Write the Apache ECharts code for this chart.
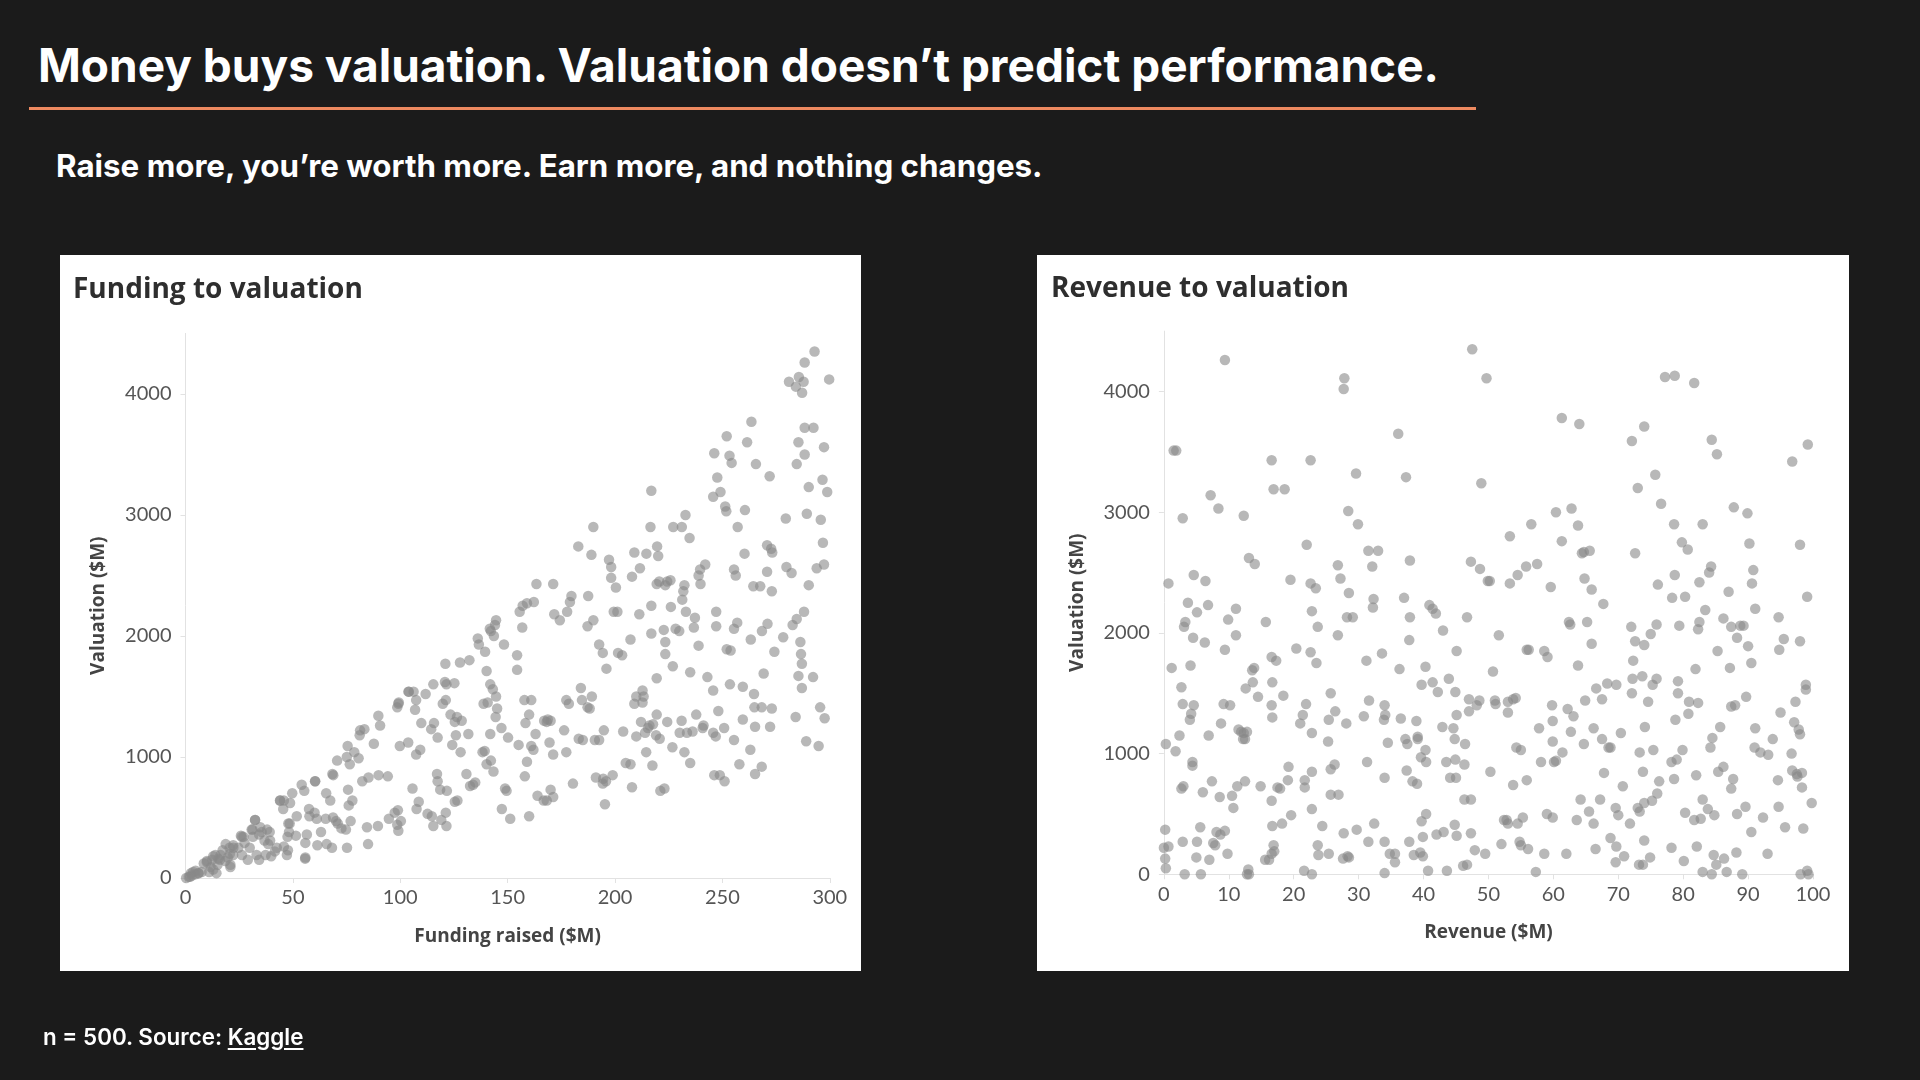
<!DOCTYPE html>
<html>
<head>
<meta charset="utf-8">
<title>Money buys valuation</title>
<script src="https://cdn.jsdelivr.net/npm/echarts@6/dist/echarts.min.js"></script>
<style>
  html, body { margin: 0; padding: 0; width: 1920px; height: 1080px; background: #1b1b1b; overflow: hidden; font-family: Inter, 'Noto Sans', sans-serif; }
  .title { position: absolute; left: 38px; top: 42px; font-size: 46px; line-height: 46px; font-weight: 700; color: #fff; white-space: nowrap; }
  .rule { position: absolute; left: 29px; top: 107px; width: 1447px; height: 3px; background: #ee8a60; }
  .subtitle { position: absolute; left: 56px; top: 151px; font-size: 31.3px; line-height: 31px; font-weight: 700; color: #fff; white-space: nowrap; }
  .panel { position: absolute; top: 255px; height: 716px; background: #fff; }
  .footer { position: absolute; left: 43px; top: 1026px; font-size: 22.4px; line-height: 22px; font-weight: 600; color: #fff; white-space: nowrap; }
  .footer u { text-underline-offset: 3px; }
  #chart { position: absolute; left: 0; top: 0; width: 1920px; height: 1080px; }
</style>
</head>
<body>
<div class="title">Money buys valuation. Valuation doesn’t predict performance.</div>
<div class="rule"></div>
<div class="subtitle">Raise more, you’re worth more. Earn more, and nothing changes.</div>
<div class="panel" style="left:60px;width:801px;"></div>
<div class="panel" style="left:1037px;width:812px;"></div>
<div id="chart"></div>
<div class="footer">n = 500. Source: <u>Kaggle</u></div>
<script>
// 面板标题和坐标轴名称
const panelTitles = ['Funding to valuation', 'Revenue to valuation'];
const xNames = ['Funding raised ($M)', 'Revenue ($M)'];
const yName = 'Valuation ($M)';
const valuationTicks = [0, 1000, 2000, 3000, 4000];

// 融资额 → 估值
const fundingPoints = [
  [292.9,4350],[288.3,4260],[281.0,4100],[285.6,4140],[287.8,4100],[284.2,4060],[287.1,4010],[299.7,4120],
  [263.5,3770],[246.2,3510],[252.0,3650],[253.3,3490],[254.3,3430],[261.5,3600],[265.6,3420],[288.3,3720],
  [292.4,3720],[285.4,3600],[297.3,3560],[288.3,3500],[284.6,3420],[247.6,3310],[272.0,3320],[290.2,3230],
  [296.6,3290],[298.8,3190],[249.1,3190],[245.7,3150],[251.3,3070],[251.8,3030],[260.5,3040],[279.5,2970],
  [289.3,3010],[295.8,2960],[257.1,2900],[216.9,3200],[189.9,2900],[216.5,2900],[227.1,2900],[231.1,2900],
  [232.8,3000],[234.7,2810],[182.9,2740],[219.6,2740],[209.0,2690],[214.6,2680],[189.0,2670],[220.1,2660],
  [197.2,2630],[198.2,2570],[211.6,2560],[207.9,2490],[198.2,2480],[200.4,2400],[242.0,2590],[239.6,2550],
  [238.9,2500],[239.8,2430],[260.3,2680],[255.4,2550],[256.2,2500],[270.8,2750],[272.7,2720],[273.2,2690],
  [264.4,2410],[273.0,2370],[279.8,2570],[282.2,2520],[290.2,2420],[296.8,2770],[297.3,2590],[293.9,2560],
  [219.4,2430],[220.6,2450],[224.3,2450],[225.8,2460],[223.4,2420],[232.3,2420],[231.8,2370],[231.3,2300],
  [233.0,2200],[171.2,2430],[179.7,2330],[179.0,2280],[177.7,2200],[187.5,2330],[163.4,2430],[157.0,2250],
  [159.0,2270],[162.2,2280],[155.6,2200],[156.8,2070],[171.7,2180],[174.3,2130],[199.4,2200],[201.1,2200],
  [211.3,2180],[216.9,2250],[189.9,2130],[187.2,2080],[226.0,2240],[222.7,2050],[223.4,1950],[223.4,1850],
  [228.2,2060],[229.9,2040],[237.2,2150],[236.7,2070],[238.9,1920],[247.1,2080],[256.9,2110],[255.4,2060],
  [216.9,2020],[207.2,1970],[201.4,1860],[203.3,1840],[192.6,1930],[194.3,1860],[196.0,1730],[219.4,1650],
  [226.9,1750],[235.0,1700],[252.0,1890],[247.1,2200],[263.2,1970],[267.6,2410],[270.8,2530],[274.2,1870],
  [268.4,2040],[271.0,2100],[282.7,2090],[284.6,2140],[278.3,1990],[286.3,1950],[286.6,1850],[287.0,1770],
  [288.0,2200],[253.8,1880],[269.2,1690],[285.4,1670],[287.0,1570],[292.2,1660],[243.0,1660],[253.5,1600],
  [259.5,1580],[264.7,1520],[245.7,1550],[212.8,1550],[213.3,1500],[209.9,1500],[212.8,1450],[209.0,1440],
  [219.4,1350],[216.0,1260],[217.7,1270],[224.3,1290],[214.5,1040],[217.4,930],[219.1,1180],[220.8,1150],
  [221.1,720],[209.9,1170],[205.0,950],[207.2,940],[207.9,750],[203.8,1210],[194.8,1220],[192.6,1140],
  [191.1,830],[194.5,820],[195.8,800],[198.9,850],[194.3,780],[195.3,610],[180.4,780],[190.6,1140],
  [185.0,1140],[188.2,1400],[189.2,1500],[184.6,1470],[187.2,1410],[177.3,1470],[178.5,1440],[184.1,1570],
  [176.3,1220],[183.1,1150],[170.0,1300],[171.2,1020],[177.3,1040],[168.2,1290],[214.0,1200],[230.1,1200],
  [231.0,1300],[236.1,1210],[237.8,1350],[241.2,1260],[240.8,1240],[245.7,1200],[246.9,1170],[248.1,1380],
  [250.8,1240],[255.4,1140],[259.5,1310],[264.9,1410],[268.3,1410],[273.0,1400],[265.2,1250],[272.2,1250],
  [284.1,1330],[295.5,1410],[297.6,1320],[289.0,1130],[294.8,1090],[263.0,1060],[257.9,940],[268.3,920],
  [265.2,860],[246.2,850],[248.8,850],[251.0,800],[233.5,1200],[226.7,1080],[232.3,1040],[235.0,950],
  [223.0,740],[212.1,1290],[215.3,1240],[144.6,2130],[144.1,2090],[143.6,2000],[141.7,2060],[142.2,2040],
  [136.1,1980],[136.6,1930],[139.5,1870],[148.3,1930],[132.2,1800],[140.2,1710],[154.4,1840],[154.4,1720],
  [161.0,1470],[157.8,1470],[160.0,1350],[158.3,1280],[163.0,1190],[159.0,960],[161.0,1090],[162.0,1060],
  [167.0,1300],[168.7,1310],[158.0,840],[163.9,680],[166.8,640],[168.2,640],[171.2,670],[170.0,730],
  [160.0,510],[169.5,1120],[148.8,740],[149.5,720],[147.3,570],[151.2,490],[155.1,1100],[150.2,1160],
  [147.1,1240],[144.4,1330],[145.1,1400],[144.6,1500],[141.9,1600],[143.1,1560],[140.7,1450],[138.8,1440],
  [141.9,1190],[142.2,970],[140.2,940],[139.3,1050],[138.3,1040],[143.4,880],[131.7,1190],[132.5,760],
  [130.8,860],[134.9,790],[133.9,770],[128.6,1300],[126.4,1330],[128.1,1040],[125.9,1180],[124.2,1100],
  [125.4,630],[126.6,640],[121.7,720],[118.6,730],[117.1,860],[117.4,800],[121.2,540],[114.7,510],
  [115.4,430],[112.7,530],[119.1,480],[121.5,430],[121.0,1770],[127.8,1780],[125.2,1610],[120.8,1620],
  [121.5,1600],[115.4,1600],[121.2,1470],[119.8,1440],[111.8,1520],[106.2,1540],[123.4,1350],[125.4,1290],
  [114.4,1230],[117.4,1160],[115.7,1280],[104.0,1540],[107.4,1470],[106.9,1390],[109.8,1280],[99.3,1450],
  [98.6,1410],[99.8,1090],[103.7,1120],[105.7,740],[109.3,1060],[107.4,1020],[108.6,630],[107.6,570],
  [98.9,560],[97.4,540],[94.7,490],[98.6,440],[99.1,390],[100.3,470],[94.2,840],[90.6,1260],
  [87.7,1110],[89.9,850],[89.6,430],[84.5,420],[85.0,280],[85.2,830],[83.3,1230],[81.1,1180],
  [80.6,990],[82.3,800],[78.6,1040],[76.5,940],[75.5,1090],[77.7,640],[76.9,470],[75.7,730],
  [76.0,600],[75.2,250],[70.6,970],[68.4,860],[68.7,500],[70.9,450],[72.6,410],[74.7,400],
  [70.1,470],[65.5,700],[67.4,640],[65.7,280],[68.2,250],[65.3,490],[63.1,380],[60.4,800],
  [55.8,170],[55.8,290],[56.5,360],[57.7,510],[57.5,570],[61.1,490],[60.1,540],[61.4,270],
  [54.1,770],[55.3,720],[51.4,350],[49.7,700],[45.8,640],[44.1,640],[45.5,570],[48.7,620],
  [48.5,450],[48.2,380],[47.5,340],[47.7,230],[47.2,190],[45.8,260],[41.6,220],[39.2,380],
  [38.0,400],[39.9,180],[34.3,360],[36.8,310],[38.5,280],[34.8,420],[32.4,480],[31.2,400],
  [31.4,340],[29.9,250],[33.1,190],[34.3,150],[37.3,190],[25.8,350],[27.0,340],[27.5,290],
  [26.3,190],[29.0,150],[24.6,250],[22.2,270],[20.5,250],[22.2,190],[20.9,110],[20.9,90],
  [18.7,280],[17.3,230],[16.3,190],[13.9,190],[15.3,160],[14.9,110],[12.4,150],[11.7,90],
  [10.0,140],[8.5,120],[12.9,70],[14.4,40],[11.0,50],[7.5,50],[6.1,40],[4.5,30],
  [3.0,20],[1.5,10],[2.5,40],[4.7,60],[3.5,50],[0.3,0],[19.7,170],[18.5,140],
  [2.1,10],[6.0,40],[9.9,130],[12.9,180],[16.0,150],[20.7,200],[22.3,250],[26.2,340],
  [30.8,400],[32.4,480],[35.5,380],[39.4,310],[42.5,250],[44.0,640],[47.9,450],[51.8,510],
  [55.7,160],[60.3,800],[68.8,850],[75.1,1000],[81.3,1220],[89.8,1340],[103.8,1540],[99.1,1440]
];

// 营收 → 估值
const revenuePoints = [
  [0.3,1080],[0.7,230],[0.2,370],[0.2,130],[0.3,50],[0.0,220],[0.7,2410],[1.2,1710],
  [1.5,3510],[1.9,3510],[1.8,1020],[2.4,1150],[2.7,1550],[3.0,730],[2.7,710],[2.9,270],
  [3.2,0],[2.9,2950],[3.1,2050],[3.3,2090],[3.7,2250],[2.9,1410],[4.1,1730],[4.0,1280],
  [4.2,1330],[4.6,1400],[4.4,930],[4.4,900],[4.6,2480],[5.1,2170],[4.5,1960],[5.1,270],
  [5.0,140],[5.7,0],[6.0,680],[5.6,390],[6.3,1920],[6.4,2430],[6.8,2230],[6.9,1150],
  [7.0,120],[7.2,3140],[7.4,770],[7.6,260],[7.9,240],[8.4,3030],[8.6,640],[8.1,350],
  [8.7,330],[8.8,1250],[9.4,360],[9.2,1410],[9.4,4260],[9.4,1860],[9.9,2110],[10.2,1400],
  [9.8,170],[10.5,650],[10.7,550],
  [11.1,1980],[11.1,2200],[11.3,730],[11.5,1200],[11.9,1180],[12.3,1170],[12.2,1120],[12.5,1120],
  [12.8,1180],[12.3,2970],[12.5,770],[12.6,1540],[13.0,40],[13.1,0],[12.8,0],[13.1,2620],
  [13.6,1690],[13.9,1710],[13.7,1590],[14.0,2570],[14.5,1470],[14.9,730],[15.6,120],[15.7,2090],
  [16.2,120],[16.6,610],[16.6,170],[16.9,240],[17.0,190],[16.7,400],[16.6,1400],[16.7,1300],
  [16.7,1590],[16.6,1800],[16.6,3430],[16.9,3190],[17.3,1770],[17.5,720],[17.9,710],[18.2,420],
  [18.4,1480],[18.6,3190],[19.2,890],[19.1,780],[19.5,2440],[19.6,490],[20.4,1870],
  [21.0,1250],[21.4,1320],[21.7,780],[21.7,720],[21.9,1410],[22.0,2730],[21.6,30],[22.6,3430],
  [22.6,2410],[22.8,1170],[22.8,2180],[22.6,1840],[22.8,850],[22.8,540],[22.8,0],[23.4,2370],
  [23.5,1750],[23.7,240],[23.8,160],[23.7,2050],[24.4,400],[25.4,170],[25.3,1100],[25.7,1500],
  [25.7,660],[25.4,1280],[25.7,870],[26.3,910],[26.4,1350],[26.8,1980],[26.8,2560],[27.2,2450],
  [26.9,660],[27.7,340],[27.6,130],[27.7,4020],[27.8,4110],[28.1,1250],[28.4,3010],[28.3,150],
  [28.5,140],[28.5,2330],[28.2,2130],[29.1,2130],[29.6,3320],[29.7,370],[29.9,2900],
  [30.8,1310],[31.3,930],[31.2,1770],[31.6,1440],[31.5,270],[31.5,2680],[32.1,2550],[32.2,2210],
  [32.3,2280],[32.4,420],[33.0,2680],[33.6,1830],[33.9,1280],[34.0,1400],[34.1,1320],[34.0,800],
  [34.0,270],[34.0,10],[34.5,1090],[34.8,170],[35.6,170],[35.6,100],[36.1,3650],[36.3,1700],
  [36.5,1290],[37.0,2290],[37.3,3290],[37.2,1120],[37.5,1080],[37.4,860],[37.8,270],[37.8,1940],
  [37.9,2600],[37.9,2130],[38.3,770],[38.5,160],[38.9,1270],[39.1,1120],[39.1,1140],[39.0,750],
  [39.5,180],[39.6,970],[39.7,1570],[39.9,310],[39.7,440],[39.9,150],
  [40.3,1030],[40.4,930],[40.4,500],[40.3,1720],[40.7,30],[40.9,2230],[41.4,2200],[41.4,1590],
  [41.9,2160],[42.2,1510],[42.0,330],[42.9,1220],[43.1,350],[43.0,2020],[43.6,30],[43.5,930],
  [43.9,1620],[44.1,800],[44.6,1210],[44.8,1120],[45.0,800],[44.9,950],[45.1,1320],[44.8,410],
  [45.1,320],[45.1,1850],[44.9,1510],[46.4,1080],[46.3,910],[46.3,620],[46.1,70],[46.7,80],
  [46.7,2130],[47.0,1350],[47.0,1450],[47.3,620],[47.3,340],[47.3,2590],[47.5,4350],[47.9,200],
  [48.2,1400],[48.6,1440],[48.7,2530],[48.9,3240],[49.5,170],[49.7,4110],[49.9,2430],[50.2,2430],
  [50.3,850],[50.7,1680],[51.0,1440],[51.1,1410],[51.6,1980],[52.0,250],[52.4,450],[52.8,450],
  [53.0,420],[53.0,1430],[53.0,1340],[53.3,2800],[53.3,2410],[53.8,1450],[54.2,1460],[53.8,740],
  [54.3,1050],[54.5,2480],[54.5,420],[54.8,270],[55.0,240],[55.0,1030],[55.3,470],[55.9,1860],
  [56.2,1860],[55.9,780],[56.1,210],[55.8,2550],[56.6,2900],[57.5,2570],[57.3,20],[57.8,1210],
  [58.1,930],[58.6,170],[58.6,1850],[59.1,1800],[59.0,500],[59.9,470],[59.6,2380],[59.9,1270],
  [59.9,1100],[59.8,1400],[60.1,930],[60.4,940],
  [60.4,3000],[61.3,3780],[61.3,2760],[61.4,1010],[62.0,170],[62.2,1370],[62.4,2090],[62.6,2070],
  [62.7,1180],[62.8,3030],[63.1,1310],[63.6,450],[63.8,2890],[63.8,1730],[64.0,3730],[64.2,620],
  [64.4,2660],[64.7,2670],[64.7,1080],[64.8,2450],[64.9,1440],[65.2,2090],[65.6,2680],[65.5,520],
  [65.9,1910],[65.9,2360],[66.2,1210],[66.2,420],[66.5,210],[66.6,1540],[67.2,620],[67.5,1450],
  [67.5,1120],[67.7,2240],[67.8,840],[68.3,1580],[68.5,1050],[68.8,1050],[68.8,300],[69.6,550],
  [69.7,230],[69.6,100],[69.7,1570],[70.0,490],
  [70.4,1170],[70.7,730],[70.9,150],[71.8,420],[72.0,2050],[72.1,1500],[72.1,3590],[72.2,1620],
  [72.3,1770],[72.6,1930],[72.6,2660],[73.0,3200],[73.0,550],[73.2,80],[73.3,520],[73.3,1010],
  [73.7,1640],[73.8,850],[74.0,280],[74.0,3710],[74.0,1900],[74.0,590],[74.1,1220],[73.8,80],
  [74.6,1430],[74.9,140],[75.0,1990],[75.2,610],[75.3,1570],[75.4,1030],[75.7,3310],[75.9,1620],
  [75.9,2070],[76.0,670],[76.1,2400],[76.3,770],[76.6,3070],[77.2,4120],[78.2,220],[78.3,2290],
  [78.6,790],[78.2,930],[78.6,2900],[78.7,2480],[78.7,4130],[78.8,1280],[79.0,950],[79.2,1500],
  [79.2,1600],[79.4,2060],[79.8,2750],[79.9,1030],[80.1,110],[80.3,2300],[80.3,510],
  [80.7,2690],[80.8,1330],[80.9,1430],[81.7,4070],[81.7,450],[81.9,1700],[82.0,820],[82.1,230],
  [82.3,2030],[82.5,2090],[82.3,1420],[82.5,2420],[82.7,460],[83.0,2900],[83.0,620],[83.0,20],
  [83.4,2190],[83.8,540],[84.0,2500],[84.2,1050],[84.3,2550],[84.4,3600],[84.4,0],[84.5,1130],
  [84.7,160],[84.8,490],[85.1,80],[85.2,3480],[85.3,1850],[85.4,850],[85.7,1220],[86.2,890],
  [86.2,2120],[86.3,130],[86.7,20],[87.0,2340],[87.2,1710],[87.4,1390],[87.4,2050],[87.4,710],
  [87.7,790],[87.8,3040],[88.0,1400],[88.2,180],[88.3,500],[88.3,1960],[88.8,2060],[89.3,2060],
  [89.1,0],[89.6,560],[89.7,1470],[89.9,2990],[90.0,1890],
  [90.2,2740],[90.5,350],[90.5,1750],[90.6,2410],[90.8,2520],[91.0,1050],[91.1,2200],[91.1,1210],
  [91.9,1010],[92.3,470],[93.0,170],[93.1,990],[93.8,1120],[94.6,780],[94.7,560],[94.7,2130],
  [94.8,1860],[95.0,1340],[95.5,1950],[95.7,390],[96.7,1000],[96.8,3420],[96.8,860],[97.1,1260],
  [97.3,1430],[97.5,830],[97.6,810],[97.8,1200],[98.0,1160],[98.0,2730],[98.0,1930],[98.1,0],
  [98.3,720],[98.5,380],[98.3,840],[98.9,1570],[98.9,1530],[99.1,30],[99.3,0],[99.2,3560],
  [99.1,2300],[99.8,590]
];

const chart = echarts.init(document.getElementById('chart'), null, { renderer: 'canvas' });

const tickLabel = { color: '#555', fontSize: 20, fontFamily: 'Lato', formatter: v => String(v) };
const nameStyle = { color: '#444', fontSize: 19, fontWeight: 'bold', fontFamily: 'Open Sans' };
const axisGray = { color: '#e2e2e2', width: 1 };

function makeX(i, max, interval) {
  return {
    gridIndex: i,
    type: 'value',
    min: 0,
    max: max,
    interval: interval,
    name: xNames[i],
    nameLocation: 'middle',
    nameGap: 49,
    nameTextStyle: nameStyle,
    axisLine: { show: true, onZero: false, lineStyle: axisGray },
    axisTick: { show: true, length: 5, lineStyle: axisGray },
    splitLine: { show: false },
    axisLabel: Object.assign({ margin: 10 }, tickLabel)
  };
}

function makeY(i) {
  return {
    gridIndex: i,
    type: 'value',
    min: 0,
    max: 4500,
    name: yName,
    nameLocation: 'middle',
    nameGap: 77,
    nameTextStyle: nameStyle,
    axisLine: { show: true, lineStyle: axisGray },
    axisTick: { show: true, length: 5, lineStyle: axisGray, customValues: valuationTicks },
    splitLine: { show: false },
    axisLabel: Object.assign({ margin: 14, customValues: valuationTicks }, tickLabel)
  };
}

function makeSeries(i, points) {
  return {
    type: 'scatter',
    xAxisIndex: i,
    yAxisIndex: i,
    data: points,
    symbolSize: 10.5,
    itemStyle: { color: '#888', opacity: 0.6 },
    emphasis: { disabled: true }
  };
}

const titleStyle = { color: '#2e2e2e', fontSize: 28, fontWeight: 'bold', fontFamily: 'Open Sans' };

chart.setOption({
  animation: false,
  backgroundColor: 'transparent',
  title: [
    { text: panelTitles[0], left: 73, top: 276, padding: 0, textStyle: titleStyle },
    { text: panelTitles[1], left: 1051, top: 275, padding: 0, textStyle: titleStyle }
  ],
  grid: [
    { left: 185.5, right: 1090.2, top: 333.4, bottom: 202 },
    { left: 1163.9, right: 107, top: 331.1, bottom: 205.7 }
  ],
  xAxis: [makeX(0, 300, 50), makeX(1, 100, 10)],
  yAxis: [makeY(0), makeY(1)],
  series: [makeSeries(0, fundingPoints), makeSeries(1, revenuePoints)]
});
</script>
</body>
</html>
